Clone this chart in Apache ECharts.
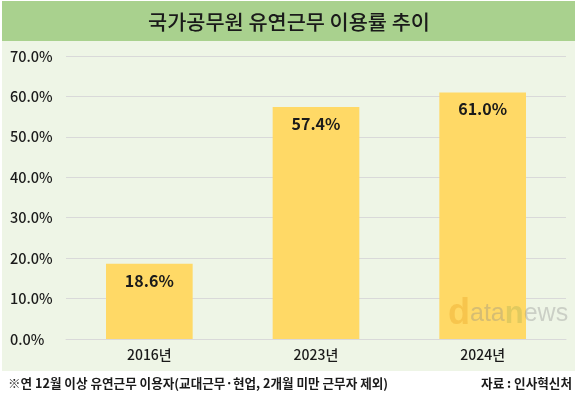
<!DOCTYPE html>
<html>
<head>
<meta charset="utf-8">
<script src="https://cdn.jsdelivr.net/npm/echarts@6/dist/echarts.min.js"></script>
<style>html,body{margin:0;padding:0;background:#fff;}#c{width:580px;height:394px;}</style>
</head>
<body>
<div id="c"></div>
<script>
const titleText = '국가공무원 유연근무 이용률 추이';
const categories = ['2016년', '2023년', '2024년'];
const values = [18.6, 57.4, 61.0];
const yTicks = [0, 10, 20, 30, 40, 50, 60, 70];
const noteText = '※연 12월 이상 유연근무 이용자(교대근무·현업, 2개월 미만 근무자 제외)';
const sourceText = '자료 : 인사혁신처';

const FONT = '"Noto Sans CJK KR", "Noto Sans", sans-serif';
const chart = echarts.init(document.getElementById('c'), null, {renderer: 'canvas'});
chart.setOption({
  backgroundColor: '#ffffff',
  animation: false,
  graphic: [
    {type: 'rect', z: -10, shape: {x: 2, y: 41, width: 573, height: 330}, style: {fill: '#eef5e6'}},
    {type: 'rect', z: -10, shape: {x: 2, y: 1, width: 573, height: 40}, style: {fill: '#a9d18e'}},
    {type: 'text', x: 289, y: 22, style: {text: titleText, font: '500 20.8px ' + FONT, fill: '#1a1a1a', align: 'center', verticalAlign: 'middle'}},
    {type: 'text', x: 8, y: 383, style: {text: noteText, font: 'bold 12.6px ' + FONT, fill: '#1a1a1a', align: 'left', verticalAlign: 'middle'}},
    {type: 'text', x: 572, y: 383, style: {text: sourceText, font: 'bold 12.6px ' + FONT, fill: '#1a1a1a', align: 'right', verticalAlign: 'middle'}},
    {type: 'text', x: 448, y: 332, z: 100, style: {
      text: '{d|d}{g|ata}{n|n}{g|ews}',
      verticalAlign: 'bottom', align: 'left', opacity: 0.35,
      rich: {
        d: {font: 'bold 36px "Liberation Sans", sans-serif', fill: '#e8a020'},
        n: {font: 'bold 31px "Liberation Sans", sans-serif', fill: '#a8b050'},
        g: {font: '25px "Liberation Sans", sans-serif', fill: '#8a8a8a'}
      }
    }}
  ],
  grid: {left: 66, right: 14, top: 56, bottom: 55, containLabel: false},
  xAxis: {
    type: 'category', data: categories,
    axisLine: {show: true, lineStyle: {color: '#d9d9d9', width: 1}},
    axisTick: {show: false},
    axisLabel: {color: '#1a1a1a', fontSize: 14, fontWeight: 500, fontFamily: FONT, margin: 9}
  },
  yAxis: {
    type: 'value', min: yTicks[0], max: yTicks[yTicks.length - 1], interval: 10,
    axisLine: {show: false}, axisTick: {show: false},
    splitLine: {lineStyle: {color: '#d9d9d9', width: 1}},
    axisLabel: {color: '#1a1a1a', fontSize: 14.5, fontWeight: 500, fontFamily: FONT, align: 'left', margin: 56,
      formatter: v => v.toFixed(1) + '%'}
  },
  series: [{
    type: 'bar', data: values, barWidth: '52%',
    itemStyle: {color: '#ffd966'},
    label: {show: true, position: 'insideTop', distance: 9, color: '#1a1a1a', fontSize: 16, fontWeight: 'bold', fontFamily: FONT,
      formatter: p => p.value.toFixed(1) + '%'}
  }]
});
</script>
</body>
</html>
